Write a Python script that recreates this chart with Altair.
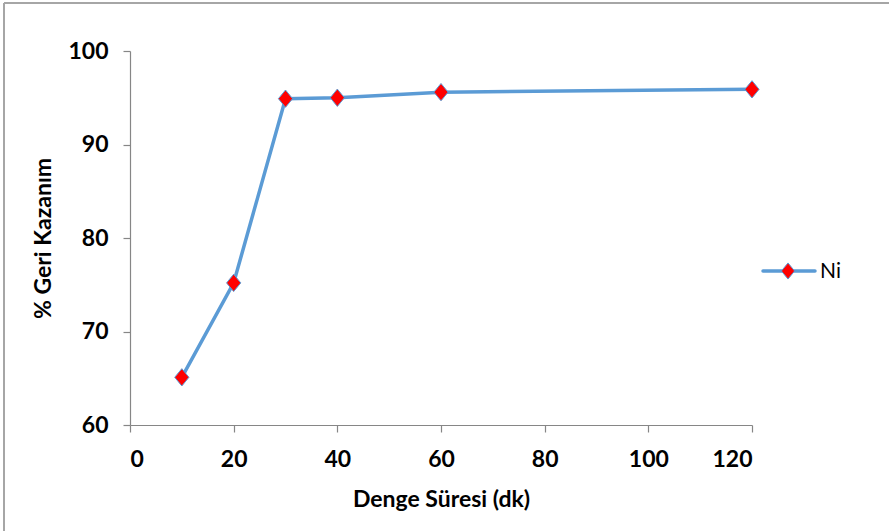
import altair as alt
import pandas as pd

time_min = [10, 20, 30, 40, 60, 120]
recovery = [65.1, 75.2, 94.9, 95.0, 95.6, 95.9]
series_name = "Ni"

x_ticks = [0, 20, 40, 60, 80, 100, 120]
y_ticks = [60, 70, 80, 90, 100]

df = pd.DataFrame({"t": time_min, "r": recovery, "s": [series_name] * len(time_min)})

LINE = "#5B9BD5"
RED = "#FF0000"
AXIS = "#868686"
FONT = "Lato"
DIAMOND = "M0,-1L0.82,0L0,1L-0.82,0Z"

x_enc = alt.X("t:Q", scale=alt.Scale(domain=[0, 120], nice=False),
              axis=alt.Axis(values=x_ticks, title="Denge Süresi (dk)", grid=False,
                            labelPadding=16, titlePadding=17))
y_enc = alt.Y("r:Q", scale=alt.Scale(domain=[60, 100], nice=False, zero=False),
              axis=alt.Axis(values=y_ticks, title="% Geri Kazanım", grid=False,
                            labelPadding=15, titlePadding=12))

line = alt.Chart(df).mark_line(color=LINE, strokeWidth=3.5).encode(x=x_enc, y=y_enc)
pts = alt.Chart(df).mark_point(shape=DIAMOND, filled=True, fill=RED, stroke=LINE,
                               strokeWidth=1, size=300, opacity=1).encode(x="t:Q", y="r:Q")

leg_df = pd.DataFrame({"s": [series_name]})
leg_line = alt.Chart(leg_df).mark_rule(color=LINE, strokeWidth=3.5, strokeCap="round").encode(
    x=alt.value(633), x2=alt.value(685), y=alt.value(220))
leg_pt = alt.Chart(leg_df).mark_point(shape=DIAMOND, filled=True, fill=RED, stroke=LINE,
                                      strokeWidth=1, size=260, opacity=1).encode(
    x=alt.value(658), y=alt.value(220))
leg_txt = alt.Chart(leg_df).mark_text(align="left", baseline="middle", fontSize=21,
                                      font=FONT, color="#000000").encode(
    x=alt.value(690), y=alt.value(221), text="s:N")

border_df = pd.DataFrame({"k": [0]})
border_top = alt.Chart(border_df).mark_rule(color="#A6A6A6", strokeWidth=2).encode(
    x=alt.value(-126), x2=alt.value(759), y=alt.value(-48))
border_left = alt.Chart(border_df).mark_rule(color="#A6A6A6", strokeWidth=2).encode(
    x=alt.value(-126), y=alt.value(-48), y2=alt.value(480))

chart = alt.layer(line, pts, leg_line, leg_pt, leg_txt, border_top, border_left).properties(
    width=622, height=374,
    autosize=alt.AutoSizeParams(type="none"),
    padding={"left": 130, "top": 51, "right": 137, "bottom": 106},
    background="white",
).configure_view(stroke=None).configure_axis(
    domainColor=AXIS, tickColor=AXIS, tickSize=7, domainWidth=1.2, tickWidth=1.2,
    labelFont=FONT, labelFontSize=23, labelFontWeight="bold", labelColor="#000000",
    titleFont=FONT, titleFontSize=23, titleFontWeight="bold", titleColor="#000000",
)

chart.save("out.html", embed_options={"renderer": "svg", "actions": False})
